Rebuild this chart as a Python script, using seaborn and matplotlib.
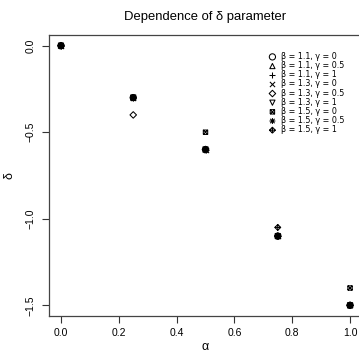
import numpy as np
import pandas as pd
import matplotlib
matplotlib.use("Agg")
import matplotlib.pyplot as plt
from matplotlib.path import Path
import seaborn as sns

# alpha grid and delta values per (beta, gamma) series
alpha = [0.0, 0.25, 0.5, 0.75, 1.0]
betas = [1.1, 1.1, 1.1, 1.3, 1.3, 1.3, 1.5, 1.5, 1.5]
gammas = [0, 0.5, 1, 0, 0.5, 1, 0, 0.5, 1]
delta_b11_g0 = [0.0, -0.3, -0.6, -1.1, -1.5]
delta_b11_g05 = [0.0, -0.3, -0.6, -1.1, -1.5]
delta_b11_g1 = [0.0, -0.3, -0.6, -1.1, -1.5]
delta_b13_g0 = [0.0, -0.3, -0.6, -1.1, -1.5]
delta_b13_g05 = [0.0, -0.4, -0.6, -1.1, -1.5]
delta_b13_g1 = [0.0, -0.3, -0.6, -1.1, -1.5]
delta_b15_g0 = [0.0, -0.3, -0.5, -1.1, -1.4]
delta_b15_g05 = [0.0, -0.3, -0.6, -1.1, -1.5]
delta_b15_g1 = [0.0, -0.3, -0.6, -1.05, -1.5]
deltas = [delta_b11_g0, delta_b11_g05, delta_b11_g1, delta_b13_g0, delta_b13_g05,
          delta_b13_g1, delta_b15_g0, delta_b15_g05, delta_b15_g1]


def line_path(segments):
    verts, codes = [], []
    for seg in segments:
        for k, p in enumerate(seg):
            verts.append(p)
            codes.append(Path.MOVETO if k == 0 else Path.LINETO)
    return Path(verts, codes)


# R-style line-art symbols that matplotlib lacks (pch 7, 8, 9)
sq = [(-1, -1), (1, -1), (1, 1), (-1, 1), (-1, -1)]
dia = [(0, -1.3), (1.3, 0), (0, 1.3), (-1.3, 0), (0, -1.3)]
box_x = line_path([sq, [(-1, -1), (1, 1)], [(-1, 1), (1, -1)]])
aster = line_path([[(-1, 0), (1, 0)], [(0, -1), (0, 1)], [(-0.75, -0.75), (0.75, 0.75)], [(-0.75, 0.75), (0.75, -0.75)]])
dia_plus = line_path([dia, [(-1.3, 0), (1.3, 0)], [(0, -1.3), (0, 1.3)]])
markers = ["o", "^", "+", "x", "D", "v", box_x, aster, dia_plus]
msizes = [20, 14, 20, 14, 11, 14, 10, 18, 18]

plt.rcParams["font.family"] = ["Liberation Sans", "DejaVu Sans"]
fig = plt.figure(figsize=(3.59, 3.6), dpi=100)
ax = fig.add_axes([49.4 / 359, 44.3 / 360, 312.2 / 359, 280.4 / 360])

for b, g, d, m, s in zip(betas, gammas, deltas, markers, msizes):
    df = pd.DataFrame({"alpha": alpha, "delta": d})
    lbl = f"β = {b}, γ = {g}"
    if isinstance(m, str) and m in "+x":
        sns.scatterplot(data=df, x="alpha", y="delta", marker=m, s=s, color="black",
                        linewidth=0.75, ax=ax, label=lbl)
    else:
        sns.scatterplot(data=df, x="alpha", y="delta", marker=m, s=s, facecolor="none",
                        edgecolor="black", linewidth=0.75, ax=ax, label=lbl)

ax.set_xlim(-0.04, 1.04)
ax.set_ylim(-1.56, 0.06)
ax.set_xticks([0.0, 0.2, 0.4, 0.6, 0.8, 1.0])
ax.set_xticklabels(["0.0", "0.2", "0.4", "0.6", "0.8", "1.0"])
ax.set_yticks([0.0, -0.5, -1.0, -1.5])
ax.set_yticklabels(["0.0", "\u22120.5", "\u22121.0", "\u22121.5"], rotation=90, va="center")
ax.tick_params(length=5, width=0.8, labelsize=7.5, color="#333333", pad=4)
ax.tick_params(axis="y", pad=5)
for sp in ax.spines.values():
    sp.set_linewidth(0.9)
    sp.set_color("#444444")
ax.set_xlabel("α", fontsize=9, labelpad=2)
ax.set_ylabel("δ", fontsize=9, labelpad=7)
ax.set_title("Dependence of δ parameter", fontsize=9.4, pad=11)

ax.legend(loc="upper left", bbox_to_anchor=(270 / 359, 1 - 52 / 360), bbox_transform=fig.transFigure,
          frameon=False, prop={"family": "DejaVu Sans", "size": 5.8}, labelspacing=0.02,
          handlelength=0.6, handletextpad=0.8, borderaxespad=0, borderpad=0, markerscale=1.0)

fig.savefig("out.png", dpi=100, facecolor="white")
